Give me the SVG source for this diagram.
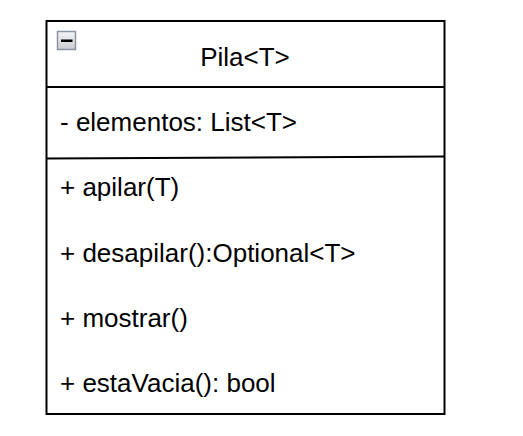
<svg xmlns="http://www.w3.org/2000/svg" width="523" height="436" viewBox="0 0 523 436">
  <style>
    .frame { fill: #ffffff; stroke: #000000; stroke-width: 2; }
    .sep { fill: none; stroke: #000000; stroke-width: 2; }
    .txt { font-family: "Liberation Sans", Arial, sans-serif; font-size: 26px; fill: #000000; }
  </style>
  <defs>
    <linearGradient id="btnFill" x1="0" y1="0" x2="0" y2="1">
      <stop offset="0" stop-color="#f4f5f7"/>
      <stop offset="1" stop-color="#c9ccd2"/>
    </linearGradient>
  </defs>
  <rect width="523" height="436" fill="#ffffff"/>
  <g id="class-pila">
    <rect class="frame" x="46.5" y="21" width="398" height="393"/>
    <!-- collapse toggle -->
    <g id="collapse-toggle">
      <rect x="57.5" y="31.5" width="18" height="18" fill="url(#btnFill)" stroke="#8b93a5" stroke-width="1.5"/>
      <rect x="61" y="39.5" width="11.5" height="2.5" fill="#000000"/>
    </g>
    <text class="txt" x="245" y="65.5" text-anchor="middle">Pila&lt;T&gt;</text>
    <line class="sep" x1="46.5" y1="87" x2="444.5" y2="87"/>
    <text class="txt" x="60" y="130.5">- elementos: List&lt;T&gt;</text>
    <line class="sep" x1="46.5" y1="158.5" x2="444.5" y2="156.5"/>
    <text class="txt" x="60" y="196">+ apilar(T)</text>
    <text class="txt" x="60" y="261.5">+ desapilar():Optional&lt;T&gt;</text>
    <text class="txt" x="60" y="327">+ mostrar()</text>
    <text class="txt" x="60" y="391.5">+ estaVacia(): bool</text>
  </g>
</svg>
